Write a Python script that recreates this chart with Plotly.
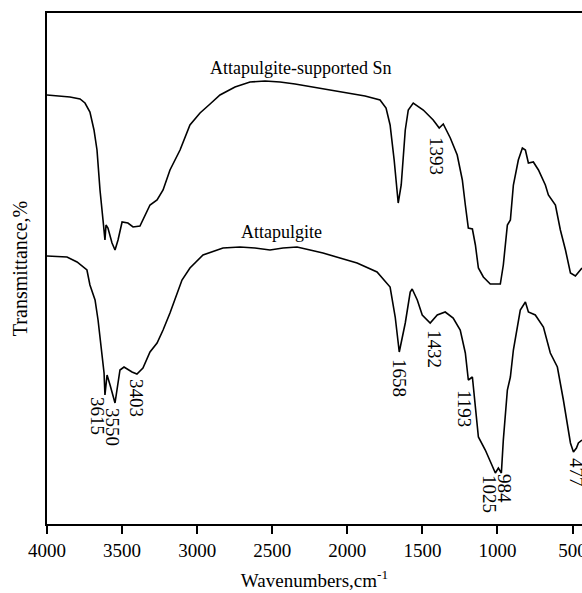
import plotly.graph_objects as go

# Wavenumbers (cm^-1) and transmittance (arbitrary units)
sn_wn = [4000, 3847, 3780, 3747, 3714, 3687, 3667, 3647, 3627, 3614, 3607, 3594, 3567, 3547, 3527, 3500,
         3461, 3427, 3381, 3347, 3314, 3267, 3227, 3181, 3114, 3048, 2981, 2914, 2848, 2748, 2648, 2548,
         2448, 2348, 2228, 2115, 2002, 1882, 1782, 1742, 1715, 1688, 1661, 1641, 1614, 1594, 1561, 1494,
         1428, 1388, 1361, 1314, 1268, 1234, 1214, 1194, 1167, 1147, 1127, 1094, 1048, 981, 961, 934,
         914, 894, 861, 834, 814, 794, 761, 727, 681, 661, 614, 581, 547, 514, 481, 450, 437]
sn_t = [429, 427, 425, 421, 412, 394, 374, 334, 304, 284, 299, 296, 281, 274, 284, 302,
        301, 297, 298, 309, 319, 324, 334, 354, 374, 399, 411, 420, 429, 437, 442, 443,
        442, 440, 437, 434, 431, 428, 424, 416, 399, 364, 321, 339, 394, 414, 421, 414,
        404, 396, 400, 386, 369, 344, 319, 296, 295, 279, 256, 247, 240, 240, 259, 299,
        304, 339, 364, 376, 374, 361, 362, 354, 339, 329, 319, 294, 274, 251, 248, 254, 256]

at_wn = [4000, 3867, 3800, 3734, 3714, 3680, 3660, 3634, 3620, 3614, 3600, 3580, 3547, 3514, 3487, 3434,
         3401, 3361, 3314, 3267, 3227, 3181, 3134, 3101, 3048, 2961, 2828, 2715, 2615, 2515, 2428, 2335,
         2248, 2162, 2049, 1935, 1802, 1735, 1715, 1681, 1654, 1614, 1581, 1568, 1534, 1501, 1448, 1401,
         1348, 1295, 1248, 1214, 1194, 1167, 1147, 1127, 1081, 1034, 1014, 994, 974, 961, 934, 914,
         894, 848, 814, 794, 748, 694, 648, 601, 561, 514, 494, 474, 461, 437]
at_t = [268, 267, 262, 254, 239, 224, 204, 171, 151, 129, 149, 139, 121, 154, 157, 152,
        150, 156, 172, 181, 194, 211, 231, 244, 256, 269, 276, 277, 276, 274, 276, 277,
        274, 271, 266, 261, 252, 241, 237, 207, 172, 201, 232, 235, 224, 209, 201, 209,
        212, 206, 194, 171, 144, 147, 117, 87, 74, 57, 51, 56, 51, 84, 134, 147,
        174, 214, 222, 212, 209, 197, 171, 157, 124, 81, 72, 76, 81, 84]

peak_labels = ["1393", "3615", "3550", "3403", "1658", "1432", "1193", "1025", "984", "477"]
peak_x = [1403, 3660, 3560, 3401, 1649, 1416, 1216, 1050, 950, 470]
peak_y = [368, 108, 97, 126, 146, 175, 116, 30, 35, 52]

series_names = ["Attapulgite-supported Sn", "Attapulgite"]
name_x = [2315, 2435]
name_y = [456, 292]

x_ticks = [4000, 3500, 3000, 2500, 2000, 1500, 1000, 500]

FONT = "Liberation Serif"

fig = go.Figure()
fig.add_trace(go.Scatter(x=sn_wn, y=sn_t, mode="lines", line=dict(color="black", width=1.6),
                         name=series_names[0], showlegend=False))
fig.add_trace(go.Scatter(x=at_wn, y=at_t, mode="lines", line=dict(color="black", width=1.6),
                         name=series_names[1], showlegend=False))

for lab, x, y in zip(peak_labels, peak_x, peak_y):
    fig.add_annotation(x=x, y=y, text=lab, showarrow=False, textangle=90,
                       font=dict(family=FONT, size=19, color="black"))

for lab, x, y in zip(series_names, name_x, name_y):
    fig.add_annotation(x=x, y=y, text=lab, showarrow=False,
                       font=dict(family=FONT, size=18, color="black"))

fig.update_layout(
    width=582, height=593,
    margin=dict(l=47, r=0, t=13, b=69, autoexpand=False),
    paper_bgcolor="white", plot_bgcolor="white",
    font=dict(family=FONT, color="black"),
    xaxis=dict(range=[4000, 437], tickvals=x_ticks, ticktext=[str(v) for v in x_ticks],
               showgrid=False, zeroline=False, showline=True, mirror=True,
               linecolor="black", linewidth=2, ticks="outside", ticklen=8, tickwidth=2,
               tickcolor="black", tickfont=dict(family=FONT, size=19),
               ticklabeloverflow="allow", automargin=False,
               title=dict(text="Wavenumbers,cm<sup>-1</sup>", font=dict(family=FONT, size=19),
                          standoff=14)),
    yaxis=dict(range=[0, 511], showgrid=False, zeroline=False, showline=True, mirror=False,
               linecolor="black", linewidth=2, showticklabels=False, ticks="", automargin=False,
               title=dict(text="Transmittance,%", font=dict(family=FONT, size=20), standoff=12)),
)

fig.write_html("out.html")
